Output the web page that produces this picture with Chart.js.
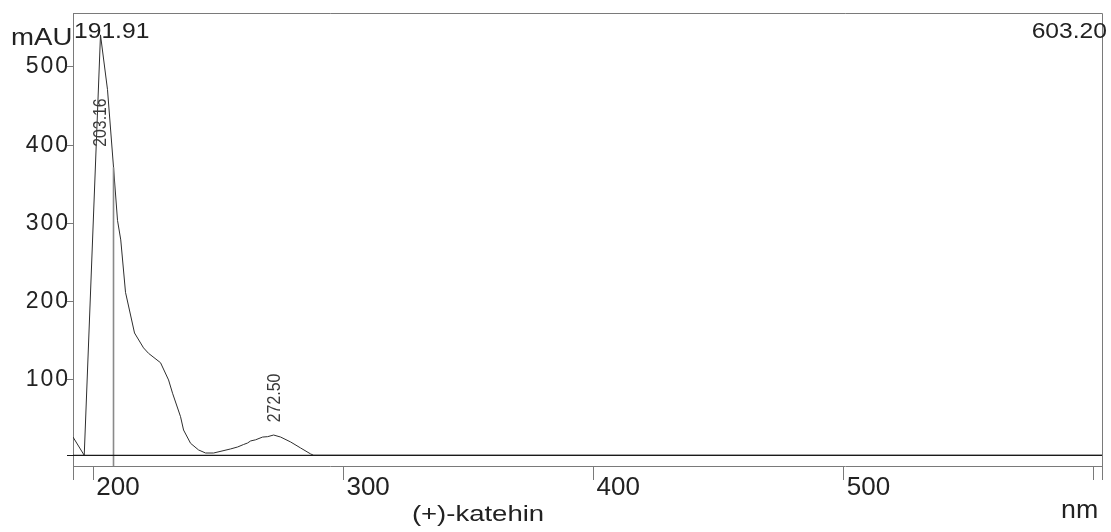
<!DOCTYPE html>
<html><head><meta charset="utf-8">
<script src="https://cdn.jsdelivr.net/npm/chart.js@4/dist/chart.umd.min.js"></script>
<style>html,body{margin:0;padding:0;background:#fff;overflow:hidden}#wrap{width:1111px;height:532px;position:relative}</style>
</head><body><div id="wrap"><canvas id="c" width="1111" height="532"></canvas></div>
<script>
// ---- data ----
const wavelengthNm = [191.91, 196.4, 202.9, 205.7, 208.1, 209.7, 211.0, 212.9, 216.5, 220.1, 222.1, 226.9, 230.1, 231.7, 234.9, 236.1, 238.9, 242.1, 244.9, 248.1, 254.9, 257.7, 260.1, 261.7, 262.9, 264.9, 267.7, 269.7, 272.1, 274.9, 278.9, 282.9, 286.9, 288.1, 603.2];
const absorbanceMAU = [27, 3.7, 541, 471, 372, 304, 279, 212, 160, 141, 134, 122, 100, 83, 53, 36, 19, 10.5, 6.6, 6.6, 11.8, 14.3, 17.5, 19.4, 22, 23.5, 27, 27.5, 29.6, 27, 20.7, 13, 5.4, 3.7, 3.7];
const xTickValues = [191.91, 200, 300, 400, 500, 600, 603.2];
const xTickLabels = ['', '200', '300', '400', '500', '', ''];
const yTickValues = [3.7, 100, 200, 300, 400, 500];
const yTickLabels = ['', '100', '200', '300', '400', '500'];
const baselineLevel = 3.7;
const markerNm = 208.1;
const markerLevel = 372;
const peakLabelNm = [203.16, 272.50];
const peakLabelText = ['203.16', '272.50'];
const peakLabelLevel = [398, 46];
const rangeLabels = ['191.91', '603.20'];
const yUnit = 'mAU';
const xUnit = 'nm';
const sampleName = '(+)-katehin';
const xMin = 191.91, xMax = 603.2, yMin = -10, yMax = 569;

const FONT = "'Liberation Sans', Arial, Helvetica, sans-serif";
const AXIS_GRAY = '#7a7a7a';

function drawText(ctx, str, x, y, o) {
  ctx.save();
  ctx.letterSpacing = '0px';
  ctx.font = o.size + 'px ' + FONT;
  ctx.fillStyle = o.color || '#222';
  ctx.textBaseline = o.baseline || 'alphabetic';
  ctx.textAlign = o.align || 'left';
  ctx.translate(x, y);
  ctx.scale(o.hscale || 1, 1);
  ctx.fillText(str, 0, 0);
  ctx.restore();
}

// wider-looking y tick labels (the reference font is wide); reset before x labels draw
const spacingPlugin = {
  id: 'spacing',
  beforeDraw(chart) { chart.ctx.letterSpacing = '2px'; },
  afterDatasetsDraw(chart) { chart.ctx.letterSpacing = '0px'; }
};

const decorPlugin = {
  id: 'decor',
  afterDraw(chart) {
    const ctx = chart.ctx, a = chart.chartArea;
    const xs = chart.scales.x, ys = chart.scales.y;
    ctx.save();
    ctx.letterSpacing = '0px';
    ctx.strokeStyle = AXIS_GRAY;
    ctx.lineWidth = 1;
    const al = p => Math.round(p - 0.5) + 0.5;
    ctx.beginPath();
    ctx.moveTo(al(a.left), al(a.top));
    ctx.lineTo(al(a.right), al(a.top));
    ctx.lineTo(al(a.right), al(a.bottom));
    ctx.stroke();
    ctx.restore();

    drawText(ctx, yUnit, 11, 45, {size: 23, hscale: 1.2});
    drawText(ctx, rangeLabels[0], a.left + 1, 37.5, {size: 22, hscale: 1.12});
    drawText(ctx, rangeLabels[1], a.right + 5, 37.5, {size: 22, hscale: 1.12, align: 'right'});
    drawText(ctx, xUnit, 1061, 518, {size: 25, hscale: 1.07});
    drawText(ctx, sampleName, 478, 521, {size: 22, hscale: 1.25, align: 'center'});

    peakLabelNm.forEach((nm, i) => {
      const px = xs.getPixelForValue(nm), py = ys.getPixelForValue(peakLabelLevel[i]);
      ctx.save();
      ctx.letterSpacing = '0px';
      ctx.translate(px, py);
      ctx.rotate(-Math.PI / 2);
      ctx.scale(0.88, 1);
      ctx.font = '18px ' + FONT;
      ctx.textAlign = 'left';
      ctx.textBaseline = 'middle';
      ctx.fillStyle = '#3a3a3a';
      ctx.fillText(peakLabelText[i], 0, 0);
      ctx.restore();
    });
  }
};

new Chart(document.getElementById('c'), {
  type: 'scatter',
  data: {
    datasets: [
      {
        label: 'baseline',
        data: [{x: xMin, y: baselineLevel}, {x: xMax, y: baselineLevel}],
        showLine: true, borderColor: '#1a1a1a', borderWidth: 1.2, pointRadius: 0
      },
      {
        label: 'marker',
        data: [{x: markerNm, y: markerLevel}, {x: markerNm, y: yMin}],
        showLine: true, borderColor: '#8a8a8a', borderWidth: 1.6, pointRadius: 0
      },
      {
        label: sampleName,
        data: wavelengthNm.map((x, i) => ({x, y: absorbanceMAU[i]})),
        showLine: true, borderColor: '#2e2e2e', borderWidth: 1, pointRadius: 0, tension: 0
      }
    ]
  },
  options: {
    responsive: false,
    animation: false,
    devicePixelRatio: 1,
    layout: {padding: {top: 13, right: 9, bottom: 0, left: 0}},
    plugins: {legend: {display: false}, tooltip: {enabled: false}, title: {display: false}},
    scales: {
      x: {
        type: 'linear', position: 'bottom', min: xMin, max: xMax,
        afterBuildTicks: s => { s.ticks = xTickValues.map(v => ({value: v})); },
        afterFit: s => { s.height = 66; },
        grid: {drawOnChartArea: false, drawTicks: true, tickLength: 14, color: AXIS_GRAY, lineWidth: 1},
        border: {display: true, color: AXIS_GRAY, width: 1},
        ticks: {
          z: 1,
          autoSkip: false, maxRotation: 0, minRotation: 0, align: 'start', labelOffset: 3, padding: 0,
          color: '#222', font: {family: FONT, size: 26, lineHeight: 0.6},
          callback: (v, i) => xTickLabels[i]
        }
      },
      y: {
        type: 'linear', min: yMin, max: yMax,
        afterBuildTicks: s => { s.ticks = yTickValues.map(v => ({value: v})); },
        afterFit: s => { s.width = 73; },
        grid: {
          drawOnChartArea: false, drawTicks: true, tickLength: 6, lineWidth: 1,
          color: AXIS_GRAY,
          tickColor: c => (c.tick && c.tick.value === baselineLevel) ? '#1a1a1a' : AXIS_GRAY
        },
        border: {display: true, color: AXIS_GRAY, width: 1},
        ticks: {
          autoSkip: false, padding: -3, color: '#222', font: {family: FONT, size: 23},
          callback: (v, i) => yTickLabels[i]
        }
      }
    }
  },
  plugins: [spacingPlugin, decorPlugin]
});
</script>
</body></html>
